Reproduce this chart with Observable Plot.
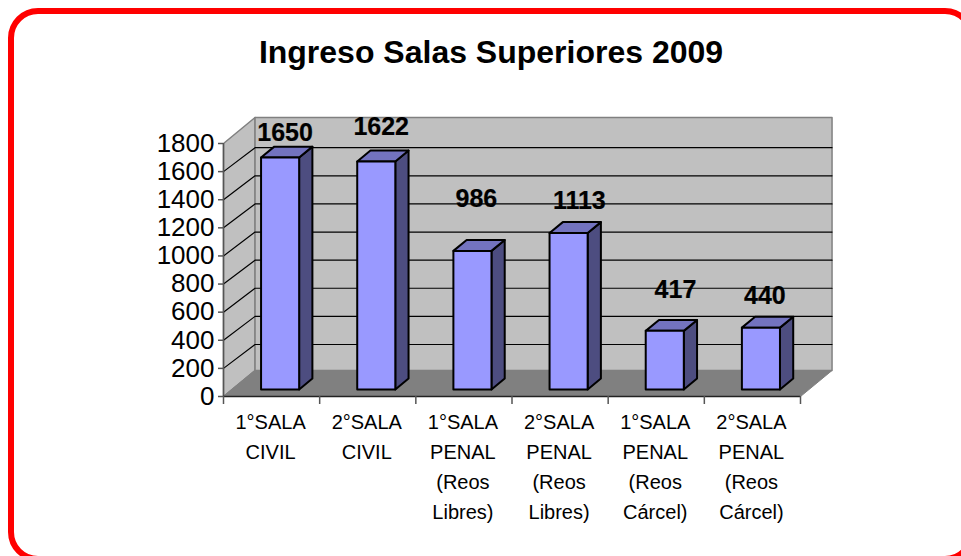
<!DOCTYPE html>
<html>
<head>
<meta charset="utf-8">
<script src="https://cdn.jsdelivr.net/npm/d3@7"></script>
<script src="https://cdn.jsdelivr.net/npm/@observablehq/plot@0.6"></script>
<style>
html,body{margin:0;padding:0;background:#fff;overflow:hidden;width:961px;height:556px}
#frame{position:absolute;left:8px;top:8px;width:955px;height:542px;border:6px solid #ff0000;border-radius:30px;box-sizing:content-box}
#title{position:absolute;left:0;top:34px;width:982px;text-align:center;font:bold 32px "Liberation Sans",Arial,sans-serif;color:#000}
#chart{position:absolute;left:0;top:0}
#chart text{font-family:"Liberation Sans",Arial,sans-serif}
</style>
</head>
<body>
<div id="frame"></div>
<div id="title">Ingreso Salas Superiores 2009</div>
<div id="chart"></div>
<script>
const categories = [
  "1°SALA\nCIVIL",
  "2°SALA\nCIVIL",
  "1°SALA\nPENAL\n(Reos\nLibres)",
  "2°SALA\nPENAL\n(Reos\nLibres)",
  "1°SALA\nPENAL\n(Reos\nCárcel)",
  "2°SALA\nPENAL\n(Reos\nCárcel)"
];
const values = [1650, 1622, 986, 1113, 417, 440];
const yTicks = [0, 200, 400, 600, 800, 1000, 1200, 1400, 1600, 1800];
// where each value label floats, relative to the bar top, in data units
const labelShiftX = [0.14, 0.14, 0.13, 0.2, 0.2, 0.13];
const labelShiftY = [-16, 53, 174, 36, 99, 32];

// oblique projection: depth d in [0,1] moves a point right and up
const depthX = 0.328, depthY = 185, gridDepthY = 170;
const px = (x, d) => x + d * depthX;
const py = (y, d) => y + d * depthY;
const barNear = 0.27, barFar = 0.69, barGap = 0.302;

const poly = (pts) => pts.map(([x, y]) => ({x, y}));
const shape = (pts, fill, stroke, strokeWidth) =>
  Plot.line(poly(pts), {x: "x", y: "y", fill, stroke, strokeWidth, curve: "linear-closed"});

const marks = [
  // walls and floor
  shape([[0,0],[px(0,1),py(0,1)],[px(0,1),py(1800,1)],[0,1800]], "#c0c0c0", "#808080", 1.5),
  shape([[px(0,1),py(0,1)],[px(6,1),py(0,1)],[px(6,1),py(1800,1)],[px(0,1),py(1800,1)]], "#c0c0c0", "#808080", 1.5),
  shape([[0,0],[6,0],[px(6,1),py(0,1)],[px(0,1),py(0,1)]], "#808080", "#808080", 1)
];
// gridlines
for (const t of yTicks.slice(1, -1)) {
  marks.push(Plot.line(poly([[0,t],[px(0,1),t + gridDepthY],[px(6,1),t + gridDepthY]]),
    {x: "x", y: "y", stroke: "#000", strokeWidth: 1.2}));
}
// bars
values.forEach((v, i) => {
  const x0 = i + barGap, x1 = i + 1 - barGap;
  const n = barNear, f = barFar;
  marks.push(
    shape([[px(x1,n),py(0,n)],[px(x1,f),py(0,f)],[px(x1,f),py(v,f)],[px(x1,n),py(v,n)]], "#4d4d80", "#000", 2),
    shape([[px(x0,n),py(v,n)],[px(x1,n),py(v,n)],[px(x1,f),py(v,f)],[px(x0,f),py(v,f)]], "#7373bf", "#000", 2),
    shape([[px(x0,n),py(0,n)],[px(x1,n),py(0,n)],[px(x1,n),py(v,n)],[px(x0,n),py(v,n)]], "#9999ff", "#000", 2)
  );
});
// value labels
marks.push(Plot.text(values, {
  x: (d, i) => i + 0.5 + labelShiftX[i],
  y: (d, i) => d + labelShiftY[i] + depthY,
  text: (d) => String(d),
  fontSize: 25, fontWeight: "bold", fill: "#000", lineAnchor: "bottom", stroke: "#000", strokeWidth: 0.2
}));
// axes
marks.push(
  Plot.axisY({ticks: yTicks, tickSize: 5, tickPadding: 4, fontSize: 26, stroke: "#555", strokeWidth: 1.5, color: "#000", label: null, tickFormat: (d) => String(d)}),
  Plot.ruleX([0], {stroke: "#555", strokeWidth: 1.5}),
  Plot.ruleY([0], {stroke: "#222", strokeWidth: 1.5}),
  Plot.axisX({ticks: [0,1,2,3,4,5,6], tickSize: 8, stroke: "#555", strokeWidth: 1.5, tickFormat: () => "", label: null}),
  Plot.axisX({ticks: categories.map((c, i) => i + 0.5), tickSize: 0, tickPadding: 11, fontSize: 20, lineHeight: 1.5, fill: "#000", dx: -1, label: null, textOverflow: null,
    tickFormat: (d) => categories[Math.floor(d)]})
);

const chart = Plot.plot({
  width: 961, height: 556,
  marginLeft: 223, marginRight: 161, marginTop: 143, marginBottom: 160,
  style: {background: "transparent", overflow: "visible"},
  x: {domain: [0, 6]},
  y: {domain: [0, 1800]},
  marks
});
document.getElementById("chart").append(chart);
</script>
</body>
</html>
